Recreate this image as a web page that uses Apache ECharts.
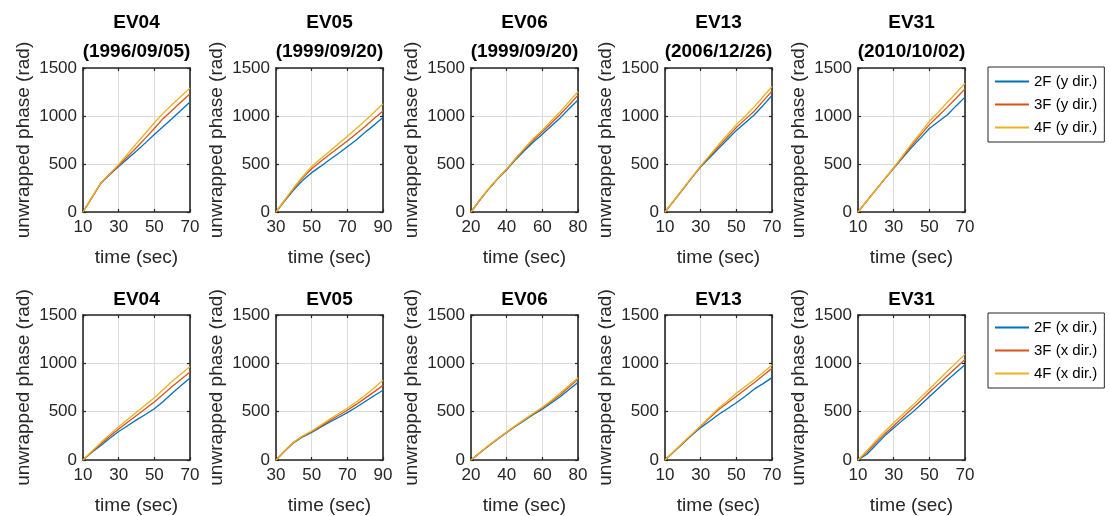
<!DOCTYPE html>
<html>
<head>
<meta charset="utf-8">
<style>
  html, body { margin: 0; padding: 0; background: #fff; }
  #chart { width: 1109px; height: 516px; }
</style>
<script src="https://cdn.jsdelivr.net/npm/echarts@6/dist/echarts.min.js"></script>
</head>
<body>
<div id="chart"></div>
<script>
// Events and their dates
const events = ['EV04', 'EV05', 'EV06', 'EV13', 'EV31'];
const dates = ['(1996/09/05)', '(1999/09/20)', '(1999/09/20)', '(2006/12/26)', '(2010/10/02)'];

// Time samples (sec) for each event
const t10 = [10, 15, 20, 25, 30, 35, 40, 45, 50, 55, 60, 65, 70];
const t30 = [30, 35, 40, 45, 50, 55, 60, 65, 70, 75, 80, 85, 90];
const t20 = [20, 25, 30, 35, 40, 45, 50, 55, 60, 65, 70, 75, 80];
const eventTimes = [t10, t30, t20, t10, t10];
const xRanges = [[10, 70], [30, 90], [20, 80], [10, 70], [10, 70]];

// Unwrapped phase (rad), y direction
const yDir2F = [
  [0, 150, 300, 390, 475, 555, 635, 720, 808, 890, 975, 1060, 1145],
  [0, 120, 230, 330, 410, 475, 545, 610, 680, 750, 830, 905, 984],
  [0, 125, 240, 345, 440, 545, 640, 730, 810, 895, 980, 1075, 1166],
  [0, 115, 235, 355, 470, 565, 660, 755, 850, 930, 1010, 1110, 1214],
  [0, 115, 230, 345, 455, 565, 670, 770, 870, 940, 1010, 1105, 1197]
];
const yDir3F = [
  [0, 150, 302, 395, 485, 578, 672, 770, 870, 975, 1060, 1145, 1231],
  [0, 125, 245, 355, 450, 525, 600, 670, 740, 815, 890, 975, 1053],
  [0, 127, 243, 350, 447, 555, 655, 750, 835, 925, 1015, 1115, 1217],
  [0, 118, 238, 358, 475, 580, 680, 780, 880, 965, 1050, 1155, 1259],
  [0, 115, 230, 345, 458, 575, 690, 800, 910, 1000, 1090, 1185, 1283]
];
const yDir4F = [
  [0, 152, 305, 400, 495, 605, 715, 820, 930, 1030, 1120, 1205, 1293],
  [0, 130, 255, 370, 475, 555, 630, 710, 790, 870, 950, 1040, 1128],
  [0, 128, 245, 352, 450, 560, 665, 765, 852, 950, 1045, 1150, 1252],
  [0, 120, 240, 360, 480, 590, 700, 805, 910, 1000, 1095, 1200, 1307],
  [0, 117, 233, 348, 462, 585, 710, 825, 945, 1040, 1140, 1240, 1341]
];

// Unwrapped phase (rad), x direction
const xDir2F = [
  [0, 80, 150, 225, 295, 355, 415, 470, 530, 605, 690, 770, 848],
  [0, 95, 180, 240, 285, 340, 390, 440, 490, 545, 605, 665, 721],
  [0, 75, 148, 218, 285, 350, 410, 470, 525, 590, 655, 730, 803],
  [0, 85, 170, 255, 335, 400, 470, 530, 593, 660, 733, 790, 852],
  [0, 60, 155, 250, 330, 410, 485, 570, 655, 740, 825, 905, 985]
];
const xDir3F = [
  [0, 85, 165, 245, 320, 390, 460, 530, 600, 680, 760, 835, 910],
  [0, 97, 183, 245, 292, 348, 405, 460, 515, 575, 640, 705, 772],
  [0, 76, 150, 220, 288, 354, 416, 478, 538, 605, 675, 755, 838],
  [0, 88, 175, 262, 350, 435, 520, 590, 660, 730, 800, 875, 948],
  [0, 80, 180, 270, 355, 440, 525, 610, 700, 785, 870, 955, 1040]
];
const xDir4F = [
  [0, 92, 180, 265, 345, 420, 495, 570, 645, 730, 815, 890, 968],
  [0, 100, 186, 250, 300, 360, 420, 478, 535, 600, 670, 745, 824],
  [0, 77, 152, 222, 290, 357, 420, 484, 545, 615, 690, 770, 852],
  [0, 90, 178, 266, 355, 445, 535, 610, 690, 760, 830, 905, 983],
  [0, 95, 200, 295, 385, 470, 555, 645, 735, 825, 915, 1005, 1095]
];

const namesY = ['2F (y dir.)', '3F (y dir.)', '4F (y dir.)'];
const namesX = ['2F (x dir.)', '3F (x dir.)', '4F (x dir.)'];
const colors = ['#0072BD', '#D95319', '#EDB120'];

// Layout
const FONT = '"Liberation Sans", Arial, Helvetica, sans-serif';
const INK = '#262626';
const gridLefts = [83, 276, 471, 665, 858];
const gridWidth = 107;
const rowTops = [68, 315];
const rowHeights = [144, 145];

const grids = [], xAxes = [], yAxes = [], series = [], titles = [];
const boxX = [], boxY = [];

function pairs(ts, vs) { return ts.map((t, i) => [t, vs[i]]); }
const plain = v => String(v);

const edgeLine = { show: true, onZero: false, lineStyle: { color: INK, width: 1.6 } };
const edgeTick = { show: true, inside: true, length: 3, lineStyle: { color: INK, width: 1.2 } };
const gridLine = { show: true, lineStyle: { color: '#dcdcdc', width: 1 } };

for (let r = 0; r < 2; r++) {
  for (let c = 0; c < 5; c++) {
    const g = r * 5 + c;
    grids.push({
      left: gridLefts[c], top: rowTops[r], width: gridWidth, height: rowHeights[r],
      show: false
    });
    xAxes.push({
      type: 'value', gridIndex: g, min: xRanges[c][0], max: xRanges[c][1], interval: 20,
      name: 'time (sec)', nameLocation: 'middle', nameGap: 36,
      nameTextStyle: { fontFamily: FONT, fontSize: 19, color: INK },
      axisLine: edgeLine, axisTick: edgeTick,
      axisLabel: { fontFamily: FONT, fontSize: 17, color: INK, margin: 7, formatter: plain },
      splitLine: gridLine
    });
    yAxes.push({
      type: 'value', gridIndex: g, min: 0, max: 1500, interval: 500,
      name: 'unwrapped phase (rad)', nameLocation: 'middle', nameGap: 50,
      nameTextStyle: { fontFamily: FONT, fontSize: 19, color: INK },
      axisLine: edgeLine, axisTick: edgeTick,
      axisLabel: { fontFamily: FONT, fontSize: 17, color: INK, margin: 6, formatter: plain },
      splitLine: gridLine
    });
    // top and right edges of the box
    boxX.push({
      type: 'value', gridIndex: g, position: 'top', min: xRanges[c][0], max: xRanges[c][1], interval: 20,
      axisLine: edgeLine, axisTick: edgeTick,
      axisLabel: { show: false }, splitLine: { show: false }
    });
    boxY.push({
      type: 'value', gridIndex: g, position: 'right', min: 0, max: 1500, interval: 500,
      axisLine: edgeLine, axisTick: edgeTick,
      axisLabel: { show: false }, splitLine: { show: false }
    });

    const sets = r === 0 ? [yDir2F, yDir3F, yDir4F] : [xDir2F, xDir3F, xDir4F];
    const names = r === 0 ? namesY : namesX;
    for (let k = 0; k < 3; k++) {
      series.push({
        type: 'line', name: names[k], xAxisIndex: g, yAxisIndex: g,
        data: pairs(eventTimes[c], sets[k][c]),
        symbol: 'none', silent: true, animation: false,
        lineStyle: { color: colors[k], width: 1.3 },
        itemStyle: { color: colors[k] },
        z: 3 + k
      });
    }

    const cx = gridLefts[c] + gridWidth / 2;
    titles.push({
      text: r === 0 ? events[c] + '\n' + dates[c] : events[c],
      left: cx, top: r === 0 ? 8 : 285, textAlign: 'center', padding: 0,
      textStyle: { fontFamily: FONT, fontSize: 19, fontWeight: 'bold', color: '#000', lineHeight: 29 }
    });
  }
}

const legendCommon = {
  orient: 'vertical', left: 988, icon: 'rect', itemWidth: 34, itemHeight: 2, itemGap: 6,
  padding: [6, 7, 6, 7],
  borderColor: INK, borderWidth: 1, backgroundColor: '#fff',
  textStyle: { fontFamily: FONT, fontSize: 15, color: '#000', lineHeight: 17 },
  selectedMode: false
};

const chart = echarts.init(document.getElementById('chart'), null, { renderer: 'canvas' });
chart.setOption({
  animation: false,
  backgroundColor: '#fff',
  title: titles,
  legend: [
    Object.assign({}, legendCommon, { top: 67, data: namesY }),
    Object.assign({}, legendCommon, { top: 313, data: namesX })
  ],
  grid: grids,
  xAxis: xAxes.concat(boxX),
  yAxis: yAxes.concat(boxY),
  series: series
});
</script>
</body>
</html>
